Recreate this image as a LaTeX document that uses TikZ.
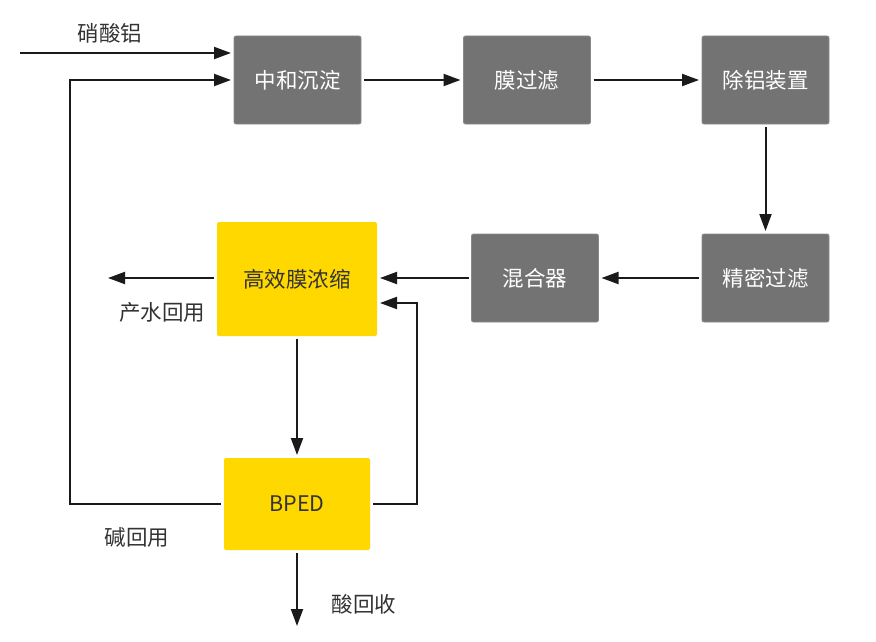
\documentclass[tikz,border=0pt]{standalone}
\usepackage{fontspec}
\setmainfont{Noto Sans CJK SC}
\usetikzlibrary{arrows.meta}
\definecolor{boxgray}{HTML}{737373}
\definecolor{boxedge}{HTML}{8A8A8A}
\definecolor{boxyellow}{HTML}{FFD800}
\definecolor{linec}{HTML}{1A1A1A}
\definecolor{txt}{HTML}{333333}
\begin{document}
\begin{tikzpicture}[x=1pt,y=-1pt,
  graybox/.style={draw=boxedge,line width=0.8pt,fill=boxgray,rounded corners=2pt,text=white,font=\fontsize{21.5}{25}\selectfont,minimum width=127pt,minimum height=88pt,inner sep=0pt,outer sep=3pt},
  yelbox/.style={draw=none,fill=boxyellow,rounded corners=2pt,text=txt,font=\fontsize{21.5}{25}\selectfont,inner sep=0pt,outer sep=3pt},
  conn/.style={draw=linec,line width=2pt,-{Triangle[length=17pt,width=12pt]}},
  lbl/.style={text=txt,font=\fontsize{21.5}{25}\selectfont,inner sep=0pt}]
\useasboundingbox (0,0) rectangle (876,642);
\node[graybox] (zh) at (297.5,80) {中和沉淀};
\node[graybox] (mg) at (527,80) {膜过滤};
\node[graybox] (cl) at (765.5,80) {除铝装置};
\node[graybox] (jm) at (765.5,278) {精密过滤};
\node[graybox] (hh) at (535,278) {混合器};
\node[yelbox,minimum width=160pt,minimum height=114pt] (gx) at (297,279) {高效膜浓缩};
\node[yelbox,minimum width=146pt,minimum height=92pt] (bp) at (297,504) {BPED};
\coordinate (in) at (20,53);
\coordinate (pw) at (108,278);
\coordinate (ac) at (297,626);
\coordinate (lpa) at (70,504);
\coordinate (lpb) at (70,80);
\coordinate (rpa) at (417,504);
\coordinate (rpb) at (417,303);
\draw[conn] (in) -- (in -| zh.west);
\draw[conn] (zh) -- (mg);
\draw[conn] (mg) -- (cl);
\draw[conn] (cl) -- (jm);
\draw[conn] (jm) -- (hh);
\draw[conn] (hh) -- (hh -| gx.east);
\draw[conn] (gx.west |- pw) -- (pw);
\draw[conn] (gx) -- (bp);
\draw[conn] (bp) -- (ac);
\draw[conn] (bp.west) -- (lpa) -- (lpb) -- (lpb -| zh.west);
\draw[conn] (bp.east) -- (rpa) -- (rpb) -- (rpb -| gx.east);
\node[lbl] (l1) at (110,33) {硝酸铝};
\node[lbl] (l2) at (162,312) {产水回用};
\node[lbl] (l3) at (137,537) {碱回用};
\node[lbl] (l4) at (364,604) {酸回收};
\end{tikzpicture}
\end{document}
